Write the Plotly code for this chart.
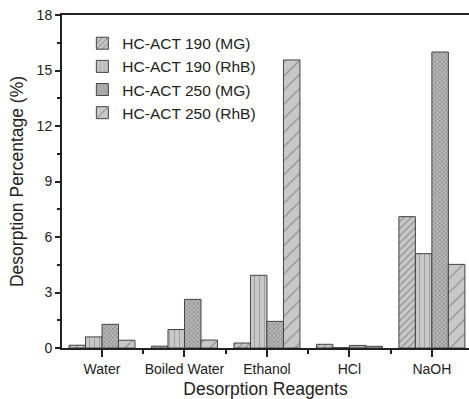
import plotly.graph_objects as go

categories = ["Water", "Boiled Water", "Ethanol", "HCl", "NaOH"]
series_names = ["HC-ACT 190 (MG)", "HC-ACT 190 (RhB)", "HC-ACT 250 (MG)", "HC-ACT 250 (RhB)"]
mg190 = [0.15, 0.1, 0.27, 0.2, 7.1]
rhb190 = [0.6, 1.0, 3.93, 0.02, 5.1]
mg250 = [1.28, 2.63, 1.44, 0.14, 16.0]
rhb250 = [0.42, 0.43, 15.57, 0.09, 4.52]
y_ticks = [0, 3, 6, 9, 12, 15, 18]

series = [mg190, rhb190, mg250, rhb250]
patterns = [dict(shape="/", size=5, solidity=0.25, fgcolor="#555555", bgcolor="#c8c8c8"),
            dict(shape="|", size=5, solidity=0.2, fgcolor="#777777", bgcolor="#c8c8c8"),
            dict(shape="x", size=3, solidity=0.4, fgcolor="#555555", bgcolor="#b8b8b8"),
            dict(shape="/", size=10, solidity=0.12, fgcolor="#555555", bgcolor="#c8c8c8")]

xs = list(range(len(categories)))
fig = go.Figure()
for name, vals, pat in zip(series_names, series, patterns):
    fig.add_trace(go.Bar(x=xs, y=vals, name=name,
                         marker=dict(color="#c8c8c8", pattern=pat,
                                     line=dict(color="#444444", width=1))))

font = "Liberation Sans, Arial, sans-serif"
fig.update_layout(
    width=469, height=399,
    margin=dict(l=62, r=0, t=15, b=51),
    plot_bgcolor="white", paper_bgcolor="white",
    barmode="group", bargap=0.2, bargroupgap=0,
    font=dict(family=font, color="#222222"),
    legend=dict(x=0.05, y=0.965, xanchor="left", yanchor="top",
                font=dict(size=15.5, color="#222222"), bgcolor="rgba(0,0,0,0)",
                tracegroupgap=0, itemwidth=30),
    showlegend=True,
)
fig.update_xaxes(range=[-0.485, 4.45], tickvals=xs, ticktext=categories, automargin=False,
                 showline=True, linecolor="#222222", linewidth=2, mirror=True,
                 ticks="outside", ticklen=7, tickwidth=2, tickcolor="#222222",
                 tickfont=dict(size=14, color="#222222"), showgrid=False, zeroline=False,
                 minor=dict(tickvals=[0.5, 1.5, 2.5, 3.5], ticks="outside", ticklen=4,
                            tickwidth=2, tickcolor="#222222"),
                 title=dict(text="Desorption Reagents", font=dict(size=17.5, color="#222222"),
                            standoff=13))
fig.update_yaxes(range=[0, 18], tickvals=y_ticks, automargin=False,
                 showline=True, linecolor="#222222", linewidth=2, mirror=False,
                 ticks="outside", ticklen=5, tickwidth=1.5, tickcolor="#222222",
                 tickfont=dict(size=14, color="#222222"), showgrid=False, zeroline=False,
                 minor=dict(dtick=1.5, ticks="outside", ticklen=3, tickwidth=1.5, tickcolor="#222222"),
                 title=dict(text="Desorption Percentage (%)", font=dict(size=17.5, color="#222222"),
                            standoff=8))
fig.write_html("out.html")
